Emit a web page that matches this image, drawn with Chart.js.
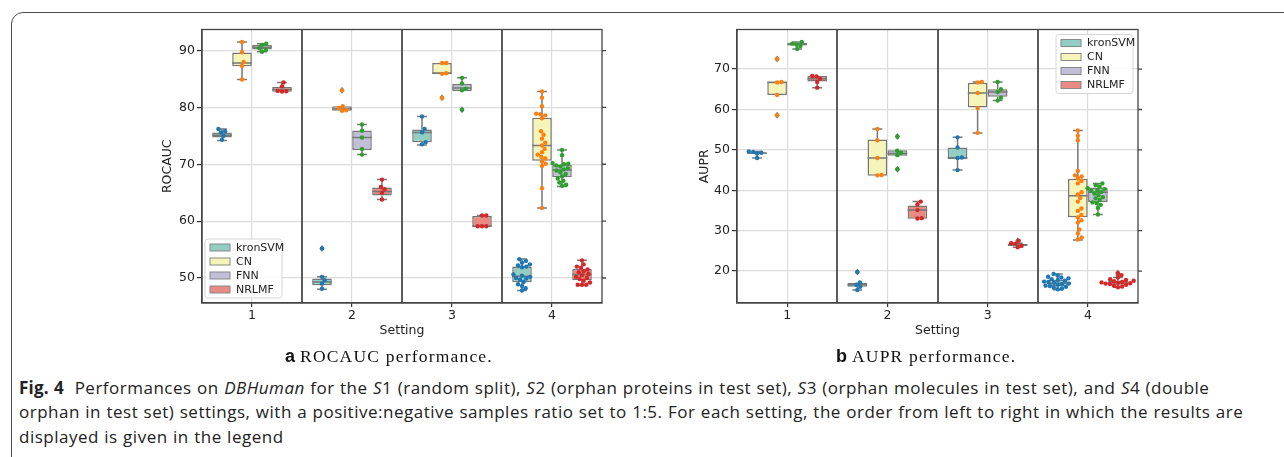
<!DOCTYPE html>
<html>
<head>
<meta charset="utf-8">
<script src="https://cdn.jsdelivr.net/npm/chart.js@4.4.0/dist/chart.umd.min.js"></script>
<style>
  body { margin: 0; width: 1284px; height: 457px; overflow: hidden; background: #fff; position: relative; }
  .frame { position: absolute; left: 11px; top: 12px; width: 1320px; height: 500px; border: 1.3px solid #4a4a4a; border-radius: 12px; }
  .chart { position: absolute; top: 20px; width: 470px; height: 330px; }
  .sub { position: absolute; top: 345px; white-space: nowrap; line-height: 22px; color: #111; }
  .sub b { font-family: "Liberation Sans", Arial, sans-serif; font-size: 18px; margin-right: 5px; }
  .sub span { font-family: "Liberation Serif", serif; font-size: 17.5px; letter-spacing: 1.2px; }
  .cap { position: absolute; left: 19px; font-family: "Open Sans", sans-serif; font-size: 17px; letter-spacing: 0.5px; word-spacing: 0.5px; line-height: 24.5px; color: #222; white-space: nowrap; }
  .cap b { font-weight: 700; letter-spacing: 0.2px; }
</style>
</head>
<body>
<div class="frame"></div>
<div class="chart" style="left:140px"><canvas id="roc"></canvas></div>
<div class="chart" style="left:680px"><canvas id="aupr"></canvas></div>
<div class="sub" style="left:285px"><b>a</b><span>ROCAUC performance.</span></div>
<div class="sub" style="left:836px"><b>b</b><span>AUPR performance.</span></div>
<div class="cap" style="top:375.5px"><b>Fig. 4</b>&nbsp; Performances on <i>DBHuman</i> for the <i>S</i>1 (random split), <i>S</i>2 (orphan proteins in test set), <i>S</i>3 (orphan molecules in test set), and <i>S</i>4 (double</div>
<div class="cap" style="top:400px">orphan in test set) settings, with a positive:negative samples ratio set to 1:5. For each setting, the order from left to right in which the results are</div>
<div class="cap" style="top:424.5px">displayed is given in the legend</div>

<script>
// categories / series
const settings = ['1', '2', '3', '4'];
const models = ['kronSVM', 'CN', 'FNN', 'NRLMF'];
const boxColors = ['#92cec2', '#f6f5b9', '#c1bed8', '#e98b82'];
const dotColors = ['#1f77b4', '#ff7f0e', '#2ca02c', '#d62728'];

// --- (a) ROCAUC : box stats [model][setting] ---
const rocQ1  = [[74.7, 48.7, 73.85, 49.25], [87.25, 79.4, 85.9, 70.6], [90.2, 72.5, 82.9, 67.7], [82.75, 64.5, 59.0, 49.6]];
const rocMed = [[75.1, 49.3, 75.6, 50.3],   [87.8, 79.75, 86.0, 73.3], [90.6, 74.7, 83.4, 69.0], [83.15, 65.2, 59.1, 50.6]];
const rocQ3  = [[75.6, 49.9, 76.1, 52.0],   [89.65, 80.2, 87.8, 78.2], [91.0, 75.95, 84.1, 69.9], [83.6, 65.9, 60.9, 51.6]];
const rocLo  = [[74.2, 48.0, 73.4, 47.8],   [84.9, 79.35, 85.9, 62.3], [89.8, 71.7, 82.9, 66.1], [82.75, 63.8, 59.0, 48.7]];
const rocHi  = [[76.2, 50.2, 78.4, 53.35],  [91.5, 80.2, 87.8, 82.8],  [91.2, 77.0, 85.2, 72.5], [84.4, 67.3, 61.0, 53.1]];
// --- (a) ROCAUC : individual runs [model][setting] ---
const rocPts = [
  [[76.2, 75.8, 75.6, 75.0, 74.3],
   [55.2, 50.2, 49.6, 49.0, 48.1],
   [78.4, 76.2, 75.6, 73.9, 73.5],
   [53.3, 53.0, 52.7, 52.4, 52.2, 52.0, 51.9, 50.6, 50.4, 50.2, 50.0, 49.9, 49.7, 49.3, 48.9, 48.6, 48.2, 47.8]],
  [[91.5, 89.7, 88.0, 87.3, 84.9],
   [83.0, 80.2, 79.9, 79.5, 79.4],
   [87.8, 87.8, 86.0, 85.9, 81.7],
   [82.8, 81.7, 80.2, 78.9, 78.8, 78.6, 78.1, 75.8, 75.2, 74.5, 73.8, 73.3, 72.7, 72.1, 71.7, 71.3, 71.0, 70.5, 70.1, 69.7, 65.8, 62.3]],
  [[91.2, 91.0, 90.4, 90.1, 89.8],
   [77.0, 75.9, 74.7, 72.7, 71.7],
   [85.2, 84.2, 83.3, 83.0, 79.6],
   [72.5, 71.6, 70.2, 70.1, 70.0, 69.8, 69.6, 69.3, 69.1, 68.9, 68.6, 68.3, 67.9, 67.5, 67.1, 66.8, 66.4, 66.2]],
  [[84.4, 83.7, 82.9, 82.85, 82.8],
   [67.3, 66.0, 65.6, 65.0, 63.8],
   [61.0, 61.0, 59.1, 59.1, 59.1],
   [53.1, 52.4, 52.0, 51.8, 51.5, 51.2, 51.0, 50.7, 50.5, 50.2, 50.0, 49.8, 49.5, 49.2, 48.8, 48.8, 48.8]]
];

// --- (b) AUPR : box stats [model][setting] ---
const auprQ1  = [[49.05, 16.1, 47.7, 16.2],  [63.6, 43.6, 60.5, 33.3],  [75.9, 48.55, 63.15, 37.1], [66.9, 32.95, 26.2, 16.6]];
const auprMed = [[49.2, 16.6, 48.05, 17.0],  [66.7, 48.0, 64.1, 38.65], [76.1, 49.1, 64.3, 39.5],   [67.6, 35.1, 26.5, 17.2]];
const auprQ3  = [[49.3, 17.1, 50.6, 17.85],  [66.9, 52.6, 66.6, 42.85], [76.5, 49.9, 65.0, 40.7],   [68.3, 36.25, 26.6, 17.7]];
const auprLo  = [[48.0, 15.3, 45.0, 15.4],   [63.6, 43.6, 54.2, 27.7],  [75.0, 48.5, 62.2, 34.0],   [65.4, 32.95, 25.9, 16.0]];
const auprHi  = [[49.6, 17.2, 53.1, 19.3],   [66.9, 55.2, 66.8, 54.8],  [76.7, 49.9, 66.8, 41.7],   [68.3, 37.2, 26.9, 18.4]];
// --- (b) AUPR : individual runs [model][setting] ---
const auprPts = [
  [[49.6, 49.5, 49.3, 49.1, 48.0],
   [19.8, 17.2, 16.6, 16.1, 15.3],
   [53.1, 50.6, 48.1, 48.0, 45.0],
   [19.3, 18.9, 18.6, 18.4, 18.2, 18.0, 17.8, 17.6, 17.4, 17.3, 17.1, 16.9, 16.8, 16.6, 16.4, 16.3, 16.1, 15.9, 15.7, 15.5]],
  [[72.5, 66.8, 66.7, 63.6, 58.6],
   [55.2, 52.4, 48.0, 43.8, 43.7],
   [66.8, 66.7, 64.1, 60.35, 54.2],
   [54.8, 53.5, 52.4, 44.8, 43.7, 43.4, 42.9, 42.3, 41.7, 39.5, 39.0, 38.1, 37.2, 35.5, 34.9, 33.9, 33.3, 32.6, 32.0, 30.3, 29.3, 28.3, 27.8]],
  [[76.7, 76.3, 76.1, 75.7, 75.0],
   [53.3, 49.8, 49.3, 48.7, 45.2],
   [66.8, 65.0, 64.3, 62.9, 62.2],
   [41.7, 41.3, 40.9, 40.5, 40.3, 40.0, 39.9, 39.6, 39.2, 38.8, 38.3, 38.0, 37.6, 37.0, 36.8, 36.4, 35.6, 34.0]],
  [[68.3, 68.2, 67.6, 66.8, 65.4],
   [37.2, 36.5, 35.1, 33.1, 33.0],
   [27.5, 26.9, 26.8, 26.3, 25.9],
   [19.5, 19.0, 18.4, 18.0, 17.8, 17.6, 17.5, 17.3, 17.2, 17.1, 17.0, 16.9, 16.8, 16.6, 16.4, 16.2, 16.0]]
];

// beeswarm: place each dot as close to the centre as it can go without overlap
function swarm(cx, ys, d) {
  const placed = [];
  const xs = new Array(ys.length);
  const order = ys.map((y, i) => i).sort((a, b) => ys[b] - ys[a]);
  order.forEach(i => {
    const y = ys[i];
    const near = placed.filter(p => Math.abs(p.y - y) < d);
    const cands = [cx];
    near.forEach(p => {
      const dx = Math.sqrt(d * d - (p.y - y) ** 2);
      cands.push(p.x + dx, p.x - dx);
    });
    cands.sort((a, b) => Math.abs(a - cx) - Math.abs(b - cx));
    let x = cands.find(c => near.every(p => (p.x - c) ** 2 + (p.y - y) ** 2 >= d * d - 0.01));
    if (x === undefined) x = cx;
    xs[i] = x;
    placed.push({ x, y });
  });
  return xs;
}

const boxPlugin = {
  id: 'boxExtras',
  afterDatasetsDraw(chart, args, opts) {
    const { ctx, chartArea: ca, scales: { x, y } } = chart;
    const st = opts.stats;
    ctx.save();
    // whiskers + median
    chart.data.datasets.forEach((ds, m) => {
      const meta = chart.getDatasetMeta(m);
      meta.data.forEach((bar, s) => {
        const cx = bar.x, hw = bar.width / 2;
        ctx.strokeStyle = '#777';
        ctx.lineWidth = 1.5;
        ctx.beginPath();
        const q1 = y.getPixelForValue(st.q1[m][s]), q3 = y.getPixelForValue(st.q3[m][s]);
        const lo = y.getPixelForValue(st.lo[m][s]), hi = y.getPixelForValue(st.hi[m][s]);
        if (hi < q3 - 0.5) { ctx.moveTo(cx, q3); ctx.lineTo(cx, hi); ctx.moveTo(cx - hw / 2, hi); ctx.lineTo(cx + hw / 2, hi); }
        if (lo > q1 + 0.5) { ctx.moveTo(cx, q1); ctx.lineTo(cx, lo); ctx.moveTo(cx - hw / 2, lo); ctx.lineTo(cx + hw / 2, lo); }
        const md = y.getPixelForValue(st.med[m][s]);
        ctx.moveTo(cx - hw, md); ctx.lineTo(cx + hw, md);
        ctx.stroke();
        // fliers
        const pts = st.pts[m][s];
        ctx.fillStyle = '#777';
        pts.forEach(v => {
          if (v > st.hi[m][s] + 0.05 || v < st.lo[m][s] - 0.05) {
            const py = y.getPixelForValue(v);
            ctx.beginPath();
            ctx.moveTo(cx, py - 3.5); ctx.lineTo(cx + 2.5, py); ctx.lineTo(cx, py + 3.5); ctx.lineTo(cx - 2.5, py);
            ctx.closePath(); ctx.fill();
          }
        });
        // swarm dots
        const ys = pts.map(v => y.getPixelForValue(v));
        const xs = swarm(cx, ys, 4.3);
        ctx.fillStyle = dotColors[m];
        ys.forEach((py, k) => {
          ctx.beginPath();
          ctx.arc(xs[k], py, 2.2, 0, Math.PI * 2);
          ctx.fill();
        });
      });
    });
    // setting separators
    ctx.strokeStyle = '#333';
    ctx.lineWidth = 1.6;
    ctx.beginPath();
    for (let i = 0; i < settings.length - 1; i++) {
      const sx = Math.round((x.getPixelForValue(i) + x.getPixelForValue(i + 1)) / 2);
      ctx.moveTo(sx, ca.top); ctx.lineTo(sx, ca.bottom);
    }
    ctx.stroke();
    // full frame + right ticks
    ctx.strokeStyle = '#444';
    ctx.lineWidth = 1.3;
    ctx.strokeRect(ca.left, ca.top, ca.right - ca.left, ca.bottom - ca.top);
    ctx.beginPath();
    y.ticks.forEach(t => {
      const py = y.getPixelForValue(t.value);
      ctx.moveTo(ca.right, py); ctx.lineTo(ca.right + 4, py);
    });
    ctx.stroke();
    // legend
    const lw = 77, lh = 59;
    const lx = opts.legend === 'bl' ? ca.left + 3 : ca.right - lw - 5;
    const ly = opts.legend === 'bl' ? ca.bottom - lh - 5 : ca.top + 5;
    ctx.fillStyle = 'rgba(255,255,255,0.85)';
    ctx.strokeStyle = '#d6d6d6';
    ctx.lineWidth = 1;
    ctx.beginPath();
    ctx.roundRect(lx, ly, lw, lh, 3);
    ctx.fill(); ctx.stroke();
    ctx.font = '11px "DejaVu Sans"';
    ctx.textBaseline = 'middle';
    models.forEach((name, m) => {
      const ry = ly + 8.5 + m * 14;
      ctx.fillStyle = boxColors[m];
      ctx.fillRect(lx + 5, ry - 3.5, 20, 7);
      ctx.strokeStyle = '#888';
      ctx.strokeRect(lx + 5, ry - 3.5, 20, 7);
      ctx.fillStyle = '#222';
      ctx.fillText(name, lx + 31, ry + 0.5);
    });
    ctx.restore();
  }
};

function makeChart(id, st, yMin, yMax, yTitle, axisW, padRight, titlePad, legend) {
  const datasets = models.map((name, m) => ({
    label: name,
    data: settings.map((s, i) => [st.q1[m][i], st.q3[m][i]]),
    backgroundColor: boxColors[m],
    borderColor: '#777',
    borderWidth: 1.5,
    borderSkipped: false,
    categoryPercentage: 0.8,
    barPercentage: 0.98
  }));
  const tickFont = { family: 'DejaVu Sans', size: 12.5 };
  return new Chart(document.getElementById(id), {
    type: 'bar',
    data: { labels: settings, datasets },
    options: {
      responsive: true,
      maintainAspectRatio: false,
      animation: false,
      devicePixelRatio: 1,
      layout: { padding: { top: 9, right: padRight, bottom: 12, left: 0 } },
      plugins: { legend: { display: false }, tooltip: { enabled: false }, boxExtras: { stats: st, legend } },
      scales: {
        x: {
          grid: { offset: false, color: '#dcdcdc', lineWidth: 1.2, tickLength: 4, tickColor: '#333' },
          border: { display: true, color: '#444', width: 1.3 },
          ticks: { font: tickFont, color: '#222', padding: 1 },
          title: { display: true, text: 'Setting', font: tickFont, color: '#222', padding: { top: 0, bottom: 0 } },
          afterFit: s => { s.height = 35; }
        },
        y: {
          min: yMin, max: yMax,
          grid: { color: '#dcdcdc', lineWidth: 1.2, tickLength: 5, tickColor: '#333' },
          border: { display: true, color: '#444', width: 1.3 },
          ticks: { stepSize: 10, includeBounds: false, font: tickFont, color: '#222', padding: 2 },
          title: { display: true, text: yTitle, font: tickFont, color: '#222', padding: { top: titlePad, bottom: 0 } },
          afterFit: s => { s.width = axisW; }
        }
      }
    },
    plugins: [boxPlugin]
  });
}

makeChart('roc', { q1: rocQ1, med: rocMed, q3: rocQ3, lo: rocLo, hi: rocHi, pts: rocPts },
  45.6, 93.7, 'ROCAUC', 62, 8, 20.5, 'bl');
makeChart('aupr', { q1: auprQ1, med: auprMed, q3: auprQ3, lo: auprLo, hi: auprHi, pts: auprPts },
  12.1, 79.8, 'AUPR', 57, 12, 17.5, 'tr');
</script>
</body>
</html>
